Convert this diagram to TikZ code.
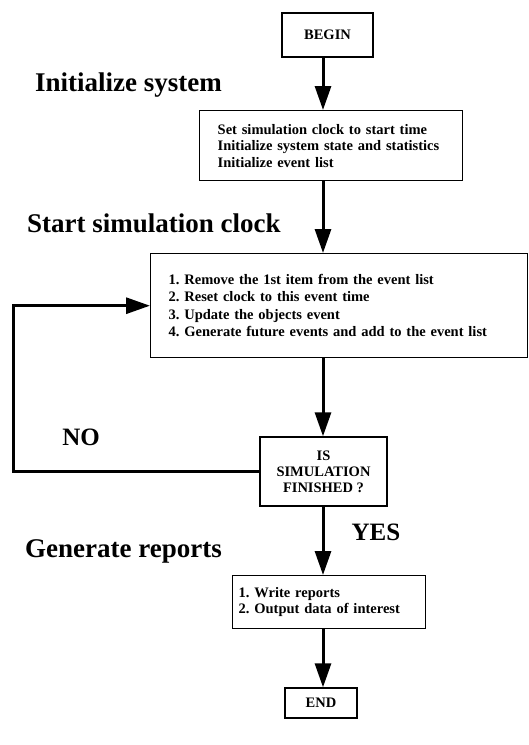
\documentclass[tikz,border=0pt]{standalone}
\usepackage{fontspec}
\setmainfont{Liberation Serif}
\usetikzlibrary{arrows.meta}
\begin{document}
\frenchspacing
\begin{tikzpicture}[x=1pt,y=-1pt,
  box/.style={draw, line width=1.4pt, font=\bfseries\fontsize{14.5}{16.5}\selectfont},
  listbox/.style={box, anchor=north west, align=left},
  capbox/.style={box, font=\bfseries\fontsize{14.5}{16}\selectfont},
  flow/.style={line width=3pt, -{Triangle[length=24pt,width=16pt]}},
  heading/.style={font=\bfseries\fontsize{27}{30}\selectfont, anchor=base west, inner sep=0pt},
  answer/.style={font=\bfseries\fontsize{25}{28}\selectfont, inner sep=0pt}]
\useasboundingbox (0,0) rectangle (529,745);

% boxes of the flow
\node[capbox, minimum width=91pt, minimum height=44pt] (begin) at (327.5,35) {BEGIN};
\node[listbox, text width=227pt, inner xsep=18pt, minimum height=70pt] (init) at (199,110)
  {Set simulation clock to start time\\
   Initialize system state and statistics\\
   Initialize event list};
\node[listbox, text width=341pt, inner xsep=18pt, minimum height=104pt,
      font=\bfseries\fontsize{14.5}{17.5}\selectfont] (main) at (150,253)
  {1. Remove the 1st item from the event list\\
   2. Reset clock to this event time\\
   3. Update the objects event\\
   4. Generate future events and add to the event list};
\node[capbox, minimum width=127pt, minimum height=69pt, align=center] (decision) at (323.5,471.5)
  {IS\\ SIMULATION\\ FINISHED ?};
\node[listbox, text width=181pt, inner xsep=6pt, minimum height=53pt] (report) at (232,575)
  {1. Write reports\\
   2. Output data of interest};
\node[capbox, minimum width=72pt, minimum height=30pt] (end) at (321,703) {END};

% headings and answers
\node[heading] (h1) at (35,91) {Initialize system};
\node[heading] (h2) at (27,232) {Start simulation clock};
\node[heading] (h3) at (25,557) {Generate reports};
\node[answer] (no) at (81,437) {NO};
\node[answer] (yes) at (376,532) {YES};

% connectors along the common vertical axis
\coordinate (axis) at (323,0);
\coordinate (loopx) at (13,0);
\draw[flow] (axis |- begin.south) -- (axis |- init.north);
\draw[flow] (axis |- init.south) -- (axis |- main.north);
\draw[flow] (axis |- main.south) -- (axis |- decision.north);
\draw[flow] (axis |- decision.south) -- (axis |- report.north);
\draw[flow] (axis |- report.south) -- (axis |- end.north);
\draw[flow] (decision.west) -| (loopx |- main.west) -- (main.west);
\end{tikzpicture}
\end{document}
